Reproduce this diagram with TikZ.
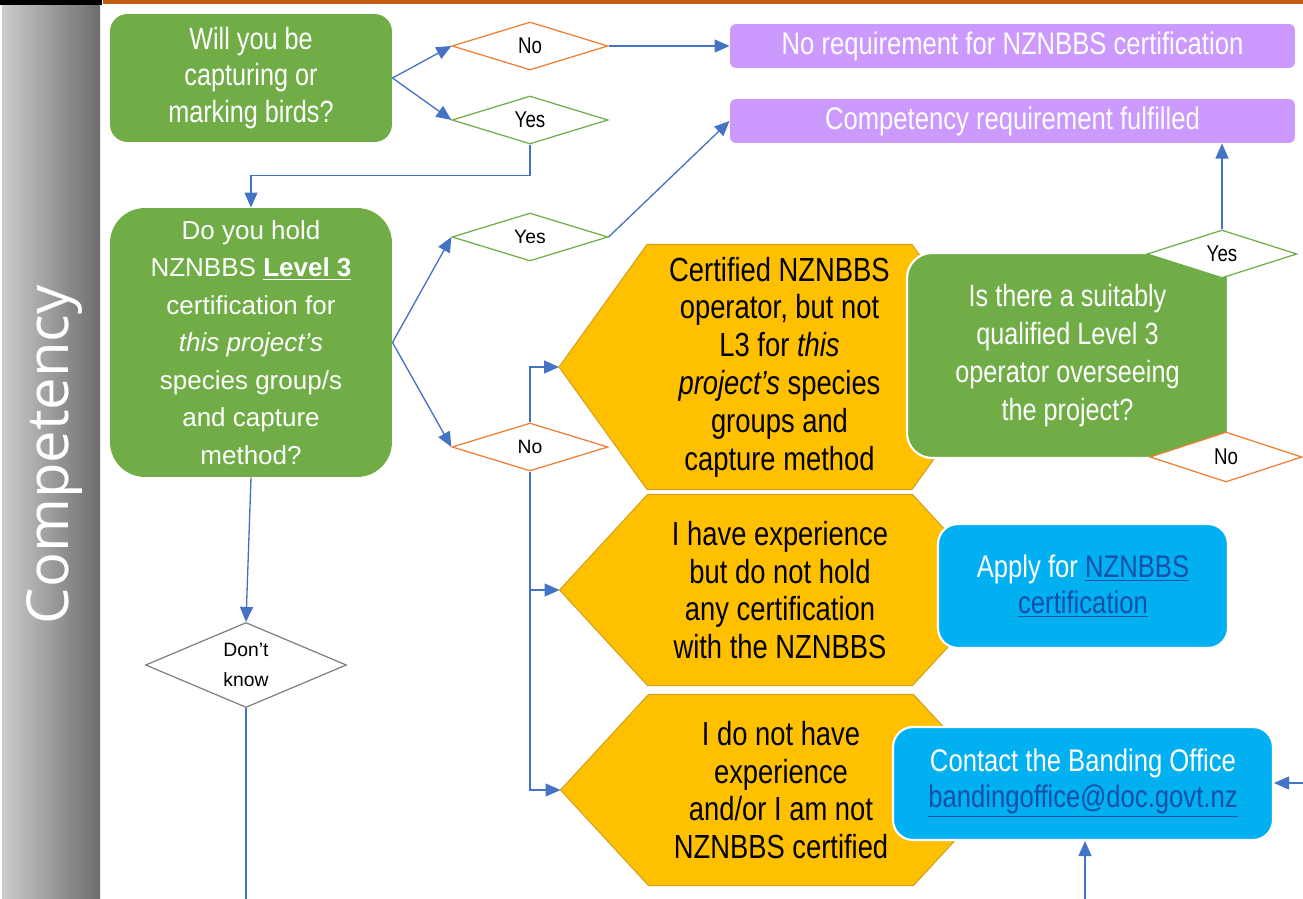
\documentclass[tikz,border=0pt]{standalone}
\usepackage{fontspec}
\setmainfont{Liberation Sans}
\newfontfamily\narrowfont[FakeStretch=0.82]{Liberation Sans}
\newfontfamily\bandfont{Open Sans}
\usetikzlibrary{arrows.meta, shapes.geometric, backgrounds}

\definecolor{askgreen}{HTML}{70AD47}
\definecolor{noorange}{HTML}{ED7D31}
\definecolor{flowblue}{HTML}{4472C4}
\definecolor{endpurple}{HTML}{CC99FF}
\definecolor{actblue}{HTML}{00B0F0}
\definecolor{linkblue}{HTML}{1550A8}
\definecolor{hexgold}{HTML}{FFC000}
\definecolor{hexedge}{HTML}{D4A11A}
\definecolor{topline}{HTML}{C55A11}
\definecolor{bandlight}{RGB}{204,204,204}
\definecolor{banddark}{RGB}{108,108,108}

\begin{document}
\begin{tikzpicture}[
            x = 0.02cm, y = -0.02cm, % one unit = one pixel of the sketch
            > = {Triangle[length=0.3cm, width=0.26cm]}, % arrow head style
            flow/.style = {draw = flowblue, line width = 0.75pt}, % connector style
            semithick
        ]

        \tikzstyle{ask}=[
            rectangle,
            fill = askgreen,
            text = white,
            align = center,
            inner sep = 0pt,
            font = \narrowfont\fontsize{17.5}{21}\selectfont
        ]
        \tikzstyle{outcome}=[
            rectangle,
            fill = endpurple,
            text = white,
            rounded corners = 0.12cm,
            minimum width = 11.3cm,
            minimum height = 0.88cm,
            font = \narrowfont\fontsize{17.8}{20}\selectfont
        ]
        \tikzstyle{action}=[
            rectangle,
            fill = actblue,
            draw = white,
            line width = 1.2pt,
            text = white,
            align = center,
            rounded corners = 0.4cm,
            font = \narrowfont\fontsize{17.8}{20.5}\selectfont
        ]
        \tikzstyle{hexbox}=[
            rectangle,
            inner sep = 0pt,
            align = center,
            minimum width = 8.8cm,
            font = \narrowfont\fontsize{19}{21.5}\selectfont
        ]
        \tikzstyle{choice}=[
            diamond,
            fill = white,
            line width = 0.7pt,
            inner sep = 0pt,
            aspect = 3.2,
            align = center,
            minimum width = 3.12cm,
            minimum height = 0.96cm,
            font = \narrowfont\fontsize{13}{14}\selectfont
        ]

        \useasboundingbox (0,0) rectangle (1303,899);

        % side band
        \shade[left color = bandlight, right color = banddark] (2,5) rectangle (100,899);
        \fill[black] (0,0) rectangle (102,5);
        \fill[topline] (103,0) rectangle (1303,4);
        \node[rotate = 90, text = white, font = \bandfont\fontsize{33}{36}\selectfont] (band) at (54,455) {Competency};

        % questions
        \node[ask, minimum width = 5.64cm, minimum height = 2.56cm, rounded corners = 0.35cm] (capture) at (251,78) {Will you be\\capturing or\\marking birds?};
        \node[ask, minimum width = 5.64cm, minimum height = 5.38cm, rounded corners = 0.7cm, font = \fontsize{14.8}{21.4}\selectfont] (level3) at (251,342.5) {Do you hold\\NZNBBS \underline{\textbf{Level 3}}\\certification for\\\textit{this project’s}\\species group/s\\and capture\\method?};

        % outcomes
        \node[outcome] (noneed) at (1012.5,46) {No requirement for NZNBBS certification};
        \node[outcome] (fulfilled) at (1012.5,121) {Competency requirement fulfilled};

        % situations
        \node[hexbox, minimum height = 4.88cm] (certified) at (779.5,367) {Certified NZNBBS\\operator, but not\\L3 for \textit{this}\\\textit{project’s} species\\groups and\\capture method};
        \node[hexbox, minimum height = 3.8cm] (experienced) at (780,590) {I have experience\\but do not hold\\any certification\\with the NZNBBS};
        \node[hexbox, minimum height = 3.8cm] (novice) at (781,790) {I do not have\\experience\\and/or I am not\\NZNBBS certified};

        \begin{scope}[on background layer]
            \filldraw[fill = hexgold, draw = hexedge, line width = 0.6pt] ([xshift=1.76cm]certified.north west) -- ([xshift=-1.76cm]certified.north east) -- (certified.east) -- ([xshift=-1.76cm]certified.south east) -- ([xshift=1.76cm]certified.south west) -- (certified.west) -- cycle;
            \filldraw[fill = hexgold, draw = hexedge, line width = 0.6pt] ([xshift=1.76cm]experienced.north west) -- ([xshift=-1.76cm]experienced.north east) -- (experienced.east) -- ([xshift=-1.76cm]experienced.south east) -- ([xshift=1.76cm]experienced.south west) -- (experienced.west) -- cycle;
            \filldraw[fill = hexgold, draw = hexedge, line width = 0.6pt] ([xshift=1.76cm]novice.north west) -- ([xshift=-1.76cm]novice.north east) -- (novice.east) -- ([xshift=-1.76cm]novice.south east) -- ([xshift=1.76cm]novice.south west) -- (novice.west) -- cycle;
        \end{scope}

        \node[ask, draw = white, line width = 1.2pt, minimum width = 6.42cm, minimum height = 4.1cm, rounded corners = 0.5cm, font = \narrowfont\fontsize{17.5}{21.6}\selectfont] (overseer) at (1067.5,355.5) {Is there a suitably\\qualified Level 3\\operator overseeing\\the project?};

        \node[action, minimum width = 5.8cm, minimum height = 2.48cm] (apply) at (1083,586) {Apply for \textcolor{linkblue}{\underline{NZNBBS}}\\\textcolor{linkblue}{\underline{certification}}};
        \node[action, minimum width = 7.6cm, minimum height = 2.26cm] (contact) at (1083,783.5) {Contact the Banding Office\\\textcolor{linkblue}{\underline{bandingoffice@doc.govt.nz}}};

        % answers
        \node[choice, draw = noorange] (noA) at (530,46) {No};
        \node[choice, draw = askgreen] (yesA) at (530,120) {Yes};
        \node[choice, draw = askgreen, font = \fontsize{11}{12}\selectfont] (yesB) at (530,237) {Yes};
        \node[choice, draw = noorange, font = \fontsize{11}{12}\selectfont] (noB) at (530,447) {No};
        \node[choice, draw = askgreen, minimum width = 3cm] (yesC) at (1222,254) {Yes};
        \node[choice, draw = noorange, minimum width = 3.04cm, minimum height = 1cm] (noC) at (1226,457) {No};
        \node[choice, draw = gray, minimum width = 4.02cm, minimum height = 1.7cm, font = \fontsize{11}{17}\selectfont] (unsure) at (246,665) {Don’t\\know};

        % connectors
        \draw[flow, ->] (capture.east) -- (noA.west);
        \draw[flow, ->] (capture.east) -- (yesA.west);
        \draw[flow, ->] (noA.east) -- (noneed.west);
        \draw[flow, ->] (yesA.south) -- ++(0,31) -| (level3.north);
        \draw[flow, ->] (level3.east) -- (yesB.west);
        \draw[flow, ->] (level3.east) -- (noB.west);
        \draw[flow, ->] (yesB.east) -- (fulfilled.west);
        \draw[flow, ->] (noB.north) |- (certified.west);
        \draw[flow, ->] (noB.south) |- (experienced.west);
        \draw[flow, ->] (noB.south) |- (novice.west);
        \draw[flow, ->] (yesC.north) -- (yesC.north |- fulfilled.south);
        \draw[flow, ->] (level3.south) -- (unsure.north);
        \draw[flow] (unsure.south) -- ++(0,191);

        \coordinate (fromright) at (1303,783);
        \coordinate (frombelow) at (1085,899);
        \draw[flow, ->] (fromright) -- (fromright -| contact.east);
        \draw[flow, ->] (frombelow) -- (frombelow |- contact.south);
    \end{tikzpicture}
\end{document}
